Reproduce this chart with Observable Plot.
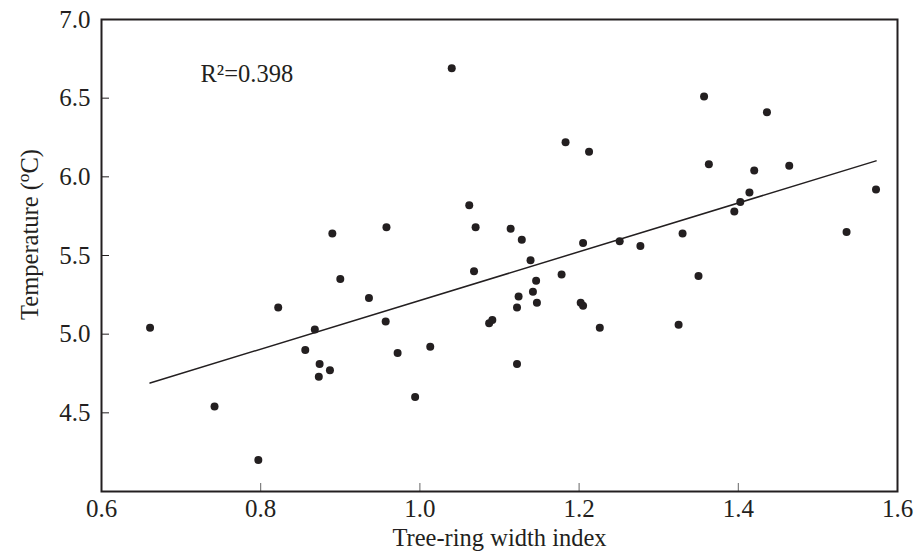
<!DOCTYPE html>
<html><head><meta charset="utf-8">
<script src="https://cdn.jsdelivr.net/npm/d3@7"></script>
<script src="https://cdn.jsdelivr.net/npm/@observablehq/plot@0.6"></script>
<style>body{margin:0;background:#fff;}</style>
</head><body><div id="chart"></div>
<script>
const ringWidth = [0.661,0.742,0.797,0.822,0.856,0.868,0.873,0.874,0.887,0.890,
  0.900,0.936,0.957,0.958,0.972,0.994,1.013,1.040,1.062,1.068,
  1.070,1.087,1.091,1.114,1.122,1.122,1.124,1.128,1.139,1.142,
  1.146,1.147,1.178,1.183,1.202,1.205,1.205,1.2125,1.226,1.251,
  1.277,1.325,1.330,1.350,1.357,1.363,1.395,1.4025,1.414,1.420,
  1.436,1.464,1.536,1.573];
const temperature = [5.04,4.54,4.20,5.17,4.90,5.03,4.73,4.81,4.77,5.64,
  5.35,5.23,5.08,5.68,4.88,4.60,4.92,6.69,5.82,5.40,
  5.68,5.07,5.09,5.67,5.17,4.81,5.24,5.60,5.47,5.27,
  5.34,5.20,5.38,6.22,5.20,5.18,5.58,6.16,5.04,5.59,
  5.56,5.06,5.64,5.37,6.51,6.08,5.78,5.84,5.90,6.04,
  6.41,6.07,5.65,5.92];
const xTicks = [0.6,0.8,1.0,1.2,1.4,1.6];
const yTicks = [4.5,5.0,5.5,6.0,6.5,7.0];
const xLabel = "Tree-ring width index";
const yLabel = "Temperature (oC)";
const annotation = "R²=0.398";

const data = ringWidth.map((x, i) => ({x, y: temperature[i]}));
const ink = "#231f20";
const font = "'Liberation Serif', 'Times New Roman', serif";

const chart = Plot.plot({
  width: 915, height: 552,
  marginLeft: 101, marginRight: 18, marginTop: 19, marginBottom: 61,
  style: {fontFamily: font, fontSize: "25px", color: ink, background: "#fff"},
  x: {domain: [0.6, 1.6]},
  y: {domain: [4.0, 7.0]},
  marks: [
    Plot.axisX(xTicks, {anchor: "bottom", tickSize: -8, tickPadding: 16, tickFormat: d3.format(".1f"), label: null, fontSize: 25, stroke: "#666"}),
    Plot.axisY(yTicks, {anchor: "left", tickSize: -8, tickPadding: 19, tickFormat: d3.format(".1f"), label: null, fontSize: 25, stroke: ink}),
    Plot.frame({stroke: ink, strokeWidth: 2}),
    Plot.linearRegressionY(data, {x: "x", y: "y", stroke: ink, strokeWidth: 1.5, ci: 0}),
    Plot.dot(data, {x: "x", y: "y", r: 4, fill: ink, stroke: "none"}),
    Plot.text([annotation], {frameAnchor: "top-left", dx: 99, dy: 55, textAnchor: "start", lineAnchor: "middle", fontSize: 24.5, fill: ink}),
    Plot.text([xLabel], {frameAnchor: "bottom", dy: 47, textAnchor: "middle", lineAnchor: "middle", fontSize: 24.5, fill: ink}),
    Plot.text([yLabel], {frameAnchor: "left", dx: -71.5, dy: -21, rotate: -90, textAnchor: "middle", lineAnchor: "middle", fontSize: 24.5, fill: ink})
  ]
});
document.getElementById("chart").appendChild(chart);

// superscript the "o" in the degree unit
d3.select(chart).selectAll("text").each(function() {
  const t = d3.select(this);
  if (t.text() === yLabel) {
    t.text(null);
    t.append("tspan").text("Temperature (");
    t.append("tspan").attr("baseline-shift", "super").attr("font-size", "0.7em").text("o");
    t.append("tspan").text("C)");
  }
});
</script>
</body></html>
